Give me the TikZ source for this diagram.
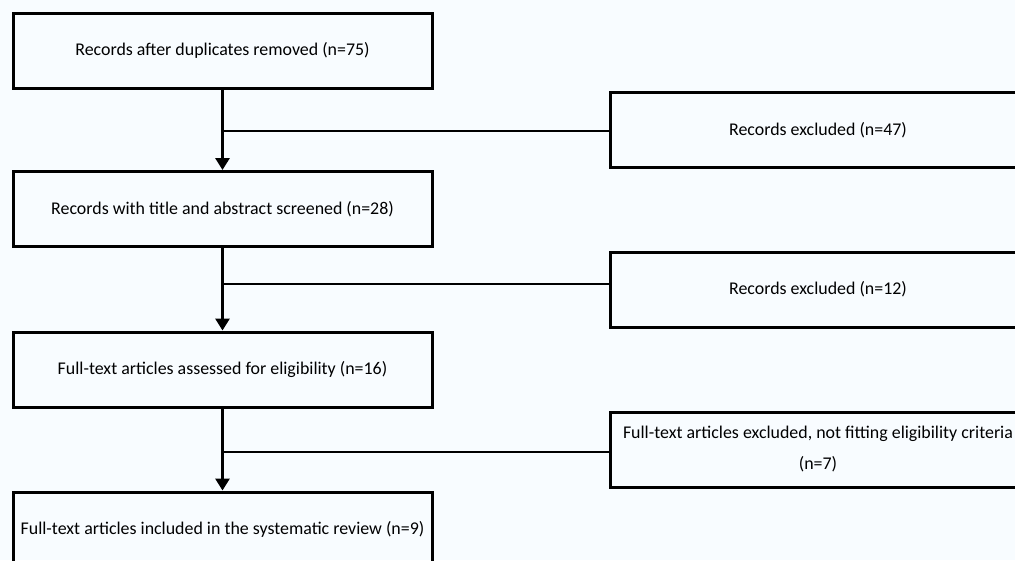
\documentclass[tikz,border=0pt]{standalone}
\usepackage{fontspec}
\setmainfont{Carlito}
\usetikzlibrary{arrows.meta}
\definecolor{bgcol}{RGB}{248,252,255}
\begin{document}
\begin{tikzpicture}[x=1pt,y=-1pt,
  leftbox/.style={draw=black,line width=3pt,minimum width=419pt,minimum height=75pt,inner sep=0pt,font=\fontsize{17.9pt}{22pt}\selectfont},
  rightbox/.style={draw=black,line width=3pt,minimum width=416pt,minimum height=75pt,inner sep=0pt,align=center,font=\fontsize{17.9pt}{31pt}\selectfont},
  flow/.style={line width=3pt,-{Triangle[width=14pt,length=12pt]}},
  branch/.style={line width=2pt}]
\useasboundingbox (0,0) rectangle (1015,560);
\fill[bgcol] (0,0) rectangle (1015,560);
\clip (0,0) rectangle (1015,560);
\node[leftbox] (b1) at (222.5,50.5) {Records after duplicates removed (n=75)};
\node[leftbox] (b2) at (222.5,209) {Records with title and abstract screened (n=28)};
\node[leftbox] (b3) at (222.5,369.5) {Full-text articles assessed for eligibility (n=16)};
\node[leftbox] (b4) at (222.5,529.5) {Full-text articles included in the systematic review (n=9)};
\node[rightbox] (r1) at (818,130) {Records excluded (n=47)};
\node[rightbox] (r2) at (818,289.5) {Records excluded (n=12)};
\node[rightbox] (r3) at (818,449.5) {Full-text articles excluded, not fitting eligibility criteria\\(n=7)};
\draw[flow] (b1.south) -- (b2.north);
\draw[flow] (b2.south) -- (b3.north);
\draw[flow] (b3.south) -- (b4.north);
\coordinate (j1) at (223,131);
\coordinate (j2) at (223,284);
\coordinate (j3) at (223,452);
\draw[branch] (j1) -- (j1 -| r1.west);
\draw[branch] (j2) -- (j2 -| r2.west);
\draw[branch] (j3) -- (j3 -| r3.west);
\end{tikzpicture}
\end{document}
